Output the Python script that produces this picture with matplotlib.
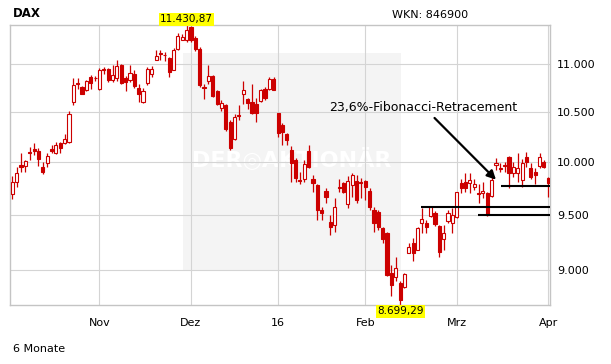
import numpy as np
import pandas as pd
import matplotlib
matplotlib.use("Agg")
import matplotlib.pyplot as plt
from matplotlib.patches import Rectangle
from matplotlib.ticker import FixedLocator, NullLocator, FuncFormatter

# DAX daily candles, Oct 2015 - Apr 2016
opens = [9694, 9805, 9968, 9958, 10095, 10125, 10108, 9955, 9993, 10125,
         10085, 10184, 10184, 10200, 10605, 10805, 10760, 10725, 10862, 10860,
         10740, 10950, 10953, 10837, 10851, 10990, 10851, 10830, 10894, 10750,
         10605, 10802, 10894, 11051, 11125, 11105, 11064, 10943, 11170, 11265,
         11260, 11414, 11290, 11170, 10760, 10822, 10872, 10718, 10546, 10570,
         10400, 10233, 10475, 10684, 10632, 10605, 10587, 10615, 10740, 10740,
         10840, 10488, 10367, 10282, 10118, 10020, 9825, 9836, 10108, 9836,
         9780, 9544, 9722, 9433, 9406, 9760, 9798, 9600, 9780, 9817,
         9805, 9817, 9722, 9544, 9526, 9379, 9333, 8977, 8943, 8890,
         8855, 9153, 9243, 9180, 9424, 9424, 9489, 9517, 9397, 9279,
         9443, 9424, 9480, 9798, 9808, 9798, 9760, 9708, 9703, 9703,
         9675, 9971, 9947, 9976, 10049, 9894, 9894, 9827, 10049, 9942,
         9904, 9961, 10000, 9846]
highs = [9865, 9955, 10085, 10020, 10150, 10190, 10135, 10003, 10085, 10165,
         10200, 10200, 10282, 10512, 10855, 10855, 10767, 10837, 10883, 10875,
         10961, 10972, 10965, 10990, 11051, 11000, 10872, 10990, 10936, 10795,
         10750, 10972, 10979, 11151, 11158, 11133, 11079, 11180, 11345, 11330,
         11430.87, 11425, 11312, 11187, 10795, 10990, 10883, 10725, 10622, 10587,
         10417, 10478, 10570, 10822, 10645, 10788, 10642, 10740, 10757, 10862,
         10862, 10493, 10387, 10289, 10157, 10039, 9900, 10020, 10167, 9875,
         9792, 9572, 9751, 9498, 9656, 9836, 9811, 9865, 9890, 9875,
         9846, 9827, 9751, 9575, 9544, 9391, 9345, 9047, 9118, 8902,
         8974, 9240, 9284, 9385, 9560, 9452, 9575, 9530, 9406, 9406,
         9544, 9560, 9716, 9833, 9897, 9890, 9840, 9792, 9811, 9710,
         9923, 10039, 9990, 10003, 10059, 10003, 10090, 10029, 10101, 9987,
         9939, 10090, 10020, 9858]
lows = [9647, 9763, 9907, 9907, 10020, 10070, 9958, 9884, 9955, 10085,
        10078, 10085, 10177, 10190, 10577, 10740, 10684, 10718, 10740, 10825,
        10732, 10900, 10812, 10812, 10820, 10795, 10718, 10812, 10750, 10605,
        10590, 10777, 10862, 11043, 11043, 11036, 10862, 10936, 11158, 11260,
        11240, 11240, 11143, 10757, 10630, 10795, 10656, 10570, 10512, 10309,
        10118, 10223, 10417, 10587, 10536, 10485, 10394, 10605, 10622, 10725,
        10725, 10249, 10167, 10167, 9808, 9808, 9790, 9808, 9940, 9713,
        9452, 9452, 9610, 9315, 9342, 9716, 9703, 9563, 9669, 9610,
        9656, 9638, 9544, 9345, 9360, 9240, 8945, 8773, 8902, 8699.29,
        8845, 9150, 9085, 9180, 9330, 9336, 9483, 9397, 9120, 9180,
        9421, 9330, 9467, 9700, 9716, 9700, 9732, 9606, 9653, 9489,
        9670, 9923, 9904, 9907, 9751, 9858, 9811, 9763, 9955, 9833,
        9792, 9939, 9939, 9669]
closes = [9811, 9897, 9955, 10007, 10085, 10110, 10026, 9907, 10059, 10110,
          10167, 10135, 10233, 10485, 10785, 10790, 10690, 10822, 10800, 10850,
          10943, 10940, 10837, 10883, 10979, 10801, 10810, 10908, 10767, 10690,
          10718, 10953, 10953, 11086, 11117, 11097, 10919, 11158, 11307, 11293,
          11373, 11260, 11170, 10777, 10745, 10876, 10663, 10587, 10594, 10333,
          10135, 10451, 10465, 10732, 10598, 10491, 10491, 10725, 10650, 10840,
          10732, 10286, 10299, 10216, 9990, 9846, 9815, 9981, 9952, 9798,
          9544, 9516, 9665, 9388, 9572, 9751, 9713, 9817, 9875, 9638,
          9795, 9760, 9572, 9424, 9388, 9279, 8960, 8873, 9021, 8744,
          8968, 9207, 9153, 9379, 9461, 9388, 9572, 9415, 9162, 9333,
          9517, 9498, 9713, 9751, 9751, 9827, 9789, 9698, 9722, 9498,
          9827, 9990, 9937, 9966, 9894, 9952, 9942, 9990, 10000, 9855,
          9875, 10049, 9952, 9798]

holidays = ["2015-12-24", "2015-12-25", "2015-12-31", "2016-01-01",
            "2016-03-25", "2016-03-28"]
dates = pd.bdate_range("2015-10-05", "2016-04-01", freq="C", holidays=holidays)

month_labels = ["Nov", "Dez", "16", "Feb", "Mrz", "Apr"]
price_ticks = [9000, 9500, 10000, 10500, 11000]

# horizontal support lines (level, first trading day index)
fib_levels = [9575, 9495, 9767]
fib_start = [93.7, 106.9, 112.1]

red = "#cc0000"
grid_col = "#d4d4d4"

opens = np.array(opens, dtype=float)
closes = np.array(closes, dtype=float)
highs = np.array(highs, dtype=float)
lows = np.array(lows, dtype=float)
x = np.arange(len(dates))

fig = plt.figure(figsize=(6.11, 3.64), dpi=100)
ax = fig.add_axes([10 / 611, 1 - 305 / 364, 540 / 611, 280 / 364])
ax.set_yscale("log")
ax.set_xlim(-0.53, 123.4)
ax.set_ylim(lows.min(), highs.max())

# watermark area
ax.add_patch(Rectangle((0.320, 0.125), 0.404, 0.775, transform=ax.transAxes,
                       facecolor="#f4f4f4", edgecolor="none", zorder=0.1))
ax.text(0.522, 0.52, "DER\u25ceAKTIONÄR", transform=ax.transAxes, color="white",
        fontsize=16, fontweight="bold", ha="center", va="center", zorder=0.2)

# month gridlines
month_pos = [i for i in range(1, len(dates)) if dates[i].month != dates[i - 1].month]
ax.xaxis.set_major_locator(FixedLocator(month_pos))
ax.set_xticklabels(month_labels)
ax.yaxis.set_major_locator(FixedLocator(price_ticks))
ax.yaxis.set_minor_locator(NullLocator())
ax.yaxis.set_major_formatter(FuncFormatter(lambda v, p: f"{v:,.0f}".replace(",", ".")))
ax.grid(True, color=grid_col, lw=0.8)
ax.set_axisbelow(True)
ax.yaxis.tick_right()
ax.tick_params(axis="both", length=0, labelsize=8)
ax.tick_params(axis="y", pad=5)
ax.tick_params(axis="x", pad=9)
for s in ax.spines.values():
    s.set_color("#c4c4c4")
    s.set_linewidth(1.0)

# candles
up = closes >= opens
ax.vlines(x, lows, highs, color=red, lw=0.9, zorder=2)
body_lo = np.minimum(opens, closes)
body_h = np.maximum(np.abs(closes - opens), 4)
ax.bar(x[up], body_h[up], bottom=body_lo[up], width=0.72, facecolor="white",
       edgecolor=red, lw=0.8, zorder=3)
ax.bar(x[~up], body_h[~up], bottom=body_lo[~up], width=0.72, facecolor=red,
       edgecolor=red, lw=0.8, zorder=3)

# support lines and annotation
for lvl, st in zip(fib_levels, fib_start):
    ax.hlines(lvl, st, 123.4, color="black", lw=1.5, zorder=5)
ax.text(72.7, 10545, "23,6%-Fibonacci-Retracement", fontsize=9, ha="left",
        va="center", zorder=6)
ax.annotate("", xy=(111.0, 9830), xytext=(96.9, 10440),
            arrowprops=dict(arrowstyle="-|>", color="black", lw=1.6,
                            mutation_scale=13, shrinkA=0, shrinkB=0), zorder=6)

# high / low labels
i_hi = int(np.argmax(highs))
i_lo = int(np.argmin(lows))
ax.annotate(f"{highs[i_hi]:,.2f}".replace(",", "X").replace(".", ",").replace("X", "."),
            xy=(i_hi, highs[i_hi]), xytext=(0, 4), textcoords="offset points",
            ha="center", va="center", fontsize=7.5, annotation_clip=False,
            bbox=dict(boxstyle="square,pad=0.12", fc="#ffff00", ec="none"))
ax.annotate(f"{lows[i_lo]:,.2f}".replace(",", "X").replace(".", ",").replace("X", "."),
            xy=(i_lo, lows[i_lo]), xytext=(0, -4.5), textcoords="offset points",
            ha="center", va="center", fontsize=7.5, annotation_clip=False,
            bbox=dict(boxstyle="square,pad=0.12", fc="#ffff00", ec="none"))

fig.text(12.7 / 611, 1 - 16.7 / 364, "DAX", fontsize=8.5, fontweight="bold",
         ha="left", va="baseline")
fig.text(392 / 611, 1 - 18.3 / 364, "WKN: 846900", fontsize=8, ha="left", va="baseline")
fig.text(12.7 / 611, 1 - 352 / 364, "6 Monate", fontsize=8, ha="left", va="baseline")

fig.savefig("out.png", dpi=100)
